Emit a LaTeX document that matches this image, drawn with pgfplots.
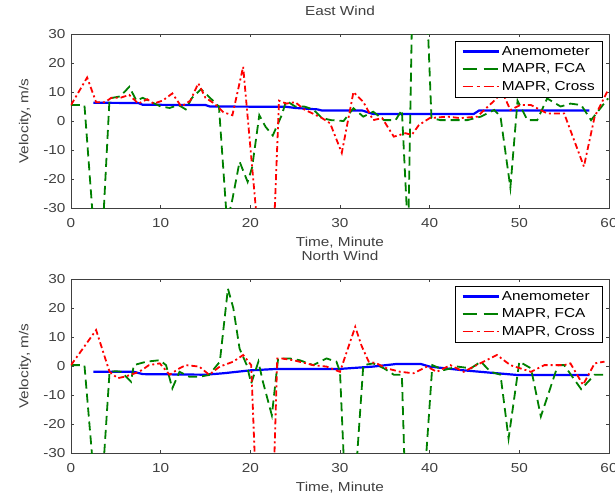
\documentclass[border=0pt]{standalone}
\usepackage{fontspec}
\setmainfont{Liberation Sans}[FakeStretch=1.18]
\usepackage{pgfplots}
\pgfplotsset{compat=1.18}
\definecolor{anblue}{RGB}{0,0,255}
\definecolor{fcagreen}{RGB}{0,128,0}
\definecolor{crossred}{RGB}{255,0,0}

\pgfplotsset{
  windaxis/.style={
    scale only axis, width=538bp, height=174bp,
    xmin=0, xmax=60, ymin=-30, ymax=30,
    xtick={0,10,...,60}, ytick={-30,-20,...,30},
    tick align=inside, major tick length=3bp,
    tick style={black!75, line width=0.6bp},
    axis line style={black!75, line width=0.7bp},
    /pgf/number format/assume math mode=true,
    every tick label/.append style={font=\fontsize{13bp}{15bp}\selectfont, text=black!75},
    xticklabel style={yshift=-7bp},
    yticklabel style={xshift=-2bp},
    title style={at={(axis description cs:0.5,1.098)}, anchor=center, font=\fontsize{13bp}{15bp}\selectfont, text=black!75},
    xlabel style={at={(axis description cs:0.5,-0.201)}, anchor=center, font=\fontsize{13bp}{15bp}\selectfont, text=black!75},
    ylabel style={at={(axis description cs:-0.0855,0.5)}, anchor=center, font=\fontsize{13bp}{15bp}\selectfont, text=black!75},
    xlabel={Time, Minute}, ylabel={Velocity, m/s},
    legend style={at={(1,1)}, anchor=north east, xshift=-6bp, yshift=-7bp,
      draw=black, fill=white, line width=0.6bp,
      font=\fontsize{13bp}{15bp}\selectfont,
      row sep=3bp, inner xsep=6bp, inner ysep=3bp},
    legend cell align=left,
  },
  % legend swatches drawn as plain segments, no dash patterns
  anemkey/.style={legend image code/.code={
    \draw[draw=anblue, line width=2.2bp] (0bp,0bp) -- (36bp,0bp);}},
  fcakey/.style={legend image code/.code={
    \draw[draw=fcagreen, line width=1.8bp] (0bp,0bp) -- (14bp,0bp);
    \draw[draw=fcagreen, line width=1.8bp] (21bp,0bp) -- (35bp,0bp);}},
  crosskey/.style={legend image code/.code={
    \draw[draw=crossred, line width=1.8bp] (0bp,0bp) -- (10bp,0bp);
    \draw[draw=crossred, line width=1.8bp] (14bp,0bp) -- (17bp,0bp);
    \draw[draw=crossred, line width=1.8bp] (21bp,0bp) -- (31bp,0bp);
    \draw[draw=crossred, line width=1.8bp] (34bp,0bp) -- (36bp,0bp);}},
}

\begin{document}
\begin{tikzpicture}
\useasboundingbox (-71bp,-286bp) rectangle (544bp,208bp);

% East wind
\begin{axis}[windaxis, at={(0,0)}, anchor=south west, title={East Wind}]
\addlegendimage{anemkey}
\addlegendimage{fcakey}
\addlegendimage{crosskey}
\addplot[forget plot, color=anblue, line width=2.2bp, solid] coordinates {
  (2.5,6.3) (7.5,6.2) (8,5.6) (15,5.5) (15.5,5) (24,4.9) (25,4.5) (27.5,4)
  (28,3.6) (32.5,3.6) (33.7,2.4) (44.9,2.4) (45.5,3.6) (57.8,3.6)};
\addplot[forget plot, color=fcagreen, line width=1.8bp, dash pattern=on 9bp off 5bp] coordinates {
  (0,5.5) (1.5,5.5) (2.6,-40) (3.5,-40) (4.3,7.8) (5.5,8.5) (6.5,11.8)
  (7.3,7) (8,8) (9,6.5) (10,5) (11,4.5) (12,5.5) (12.8,4) (13.5,8)
  (14.5,11) (15.5,8) (16.5,5) (17.4,-35) (18,-27) (18.8,-14) (19.7,-21)
  (20.2,-16) (21,2) (21.7,-2) (22.5,-5) (23.5,2) (24,7) (25,5) (26,5)
  (27,4) (28,1) (29,0.3) (30.4,0) (31.5,4.4) (32.6,1.5) (33.7,3.2)
  (34.9,0.3) (36.2,0.3) (36.9,3.8) (37.6,-40) (38.05,40) (39.7,40)
  (40.2,1) (41.2,0.3) (42.7,0.3) (44.2,0.3) (45.7,1.5) (47.2,3.8)
  (47.9,1.5) (49,-23) (49.8,7) (50.9,0.3) (52,0.3) (53.1,7.8) (54.6,5)
  (55.7,6) (56.9,5.5) (58,0.3) (59.9,7.8)};
\addplot[forget plot, color=crossred, line width=1.8bp, dash pattern=on 6bp off 3bp on 2bp off 3bp] coordinates {
  (0,5.5) (1.8,15) (2.8,6.5) (3.8,6.5) (4.5,8) (5.5,8) (6.5,9) (7.5,6)
  (8.5,7.5) (9.2,6) (10.2,7) (11.3,9.5) (12.3,5) (13.3,7) (14.2,13)
  (15,8) (16,6) (17,3) (18,2) (19.2,18.7) (20.9,-40) (22.6,-40) (23.2,7)
  (24,6) (25,6.5) (26,4) (27,2.5) (28,1) (28.9,-0.8) (30.2,-11) (31.5,10)
  (32.6,6.6) (33.7,0.3) (34.7,1) (36,-5.4) (37.3,-4.2) (38,-4.8)
  (38.8,-1.4) (40,1) (42,1.5) (43.4,1) (45.3,1.5) (47.2,7) (48.1,10)
  (49,3.8) (50.1,5.5) (51.3,5.5) (53.1,2.6) (55,2.6) (57.2,-15.7)
  (58.4,1.5) (59.9,10.7)};
\legend{Anemometer, {MAPR, FCA}, {MAPR, Cross}}
\end{axis}

% North wind
\begin{axis}[windaxis, at={(0,-245bp)}, anchor=south west, title={North Wind}]
\addlegendimage{anemkey}
\addlegendimage{fcakey}
\addlegendimage{crosskey}
\addplot[forget plot, color=anblue, line width=2.2bp, solid] coordinates {
  (2.5,-2) (7,-2) (8,-2.8) (15,-3) (17,-2.5) (20,-1.5) (23,-1) (30,-1)
  (33.7,-0.2) (36.3,0.7) (39,0.7) (40,-0.2) (43.8,-1.5) (47.5,-2.5)
  (49.8,-3.1) (57.8,-3.1)};
\addplot[forget plot, color=fcagreen, line width=1.8bp, dash pattern=on 9bp off 5bp] coordinates {
  (0,0.3) (1.5,0.3) (2.6,-40) (3.5,-40) (4.3,-2) (5,-1.8) (5.6,-2)
  (6.7,-5.4) (7,0.3) (8.4,1.5) (9.9,2) (10.6,0.3) (11.3,-7.7) (12.1,-2)
  (13.2,-3.7) (14.3,-3.7) (15.4,-3.1) (16.6,1.5) (17.5,26.7) (18.1,20)
  (18.8,6) (19.6,0.3) (20.1,-6) (20.9,1.5) (21.4,-5.4) (22.4,-17)
  (23.1,2.6) (24.4,2.6) (25.5,2) (27,0.3) (28.5,2.6) (29.6,1.5) (30,-2)
  (30.6,-45) (31.6,-45) (32.6,0.3) (33.7,0.9) (34.9,-0.8) (36,-3)
  (36.9,-3) (37.3,-45) (39.3,-45) (40.3,0.3) (41.6,-1.4) (43.1,-0.2)
  (44.6,-0.8) (45.7,1.5) (46.8,-2) (47.9,-3) (48.8,-25) (50,1.5)
  (51.3,-0.8) (52.4,-17.4) (54.3,0.3) (55,0.3) (56.9,-8) (58.4,-3)
  (59.9,-3)};
\addplot[forget plot, color=crossred, line width=1.8bp, dash pattern=on 6bp off 3bp on 2bp off 3bp] coordinates {
  (0,0.3) (2.8,12.4) (4.3,-2) (5.2,-4.2) (6.1,-3.6) (7.6,-2) (8.7,0.3)
  (9.9,0.9) (11,-3) (12.1,-0.8) (12.8,0.3) (14.3,-0.2) (15.4,-3)
  (16.6,-0.2) (18.1,1.5) (19.2,3.8) (20.1,0.3) (20.6,-40) (22.6,-40)
  (23,2.6) (23.5,2.6) (24.8,2) (27,0.3) (28.5,-0.2) (30,-2) (31.7,13.5)
  (32.4,7) (33.2,1.5) (34.1,0.9) (35.2,-0.8) (36.7,-2) (38.2,-2.5)
  (39.7,-0.2) (40.8,-2) (42.3,0.3) (43.8,-2) (44.9,-0.2) (47.5,3.8)
  (49,0.3) (50.1,-0.8) (51.3,-2) (52.8,0.3) (55,0.3) (55.7,0.9)
  (57.1,-6.5) (58.4,0.9) (59.5,1.5)};
\legend{Anemometer, {MAPR, FCA}, {MAPR, Cross}}
\end{axis}
\end{tikzpicture}
\end{document}
